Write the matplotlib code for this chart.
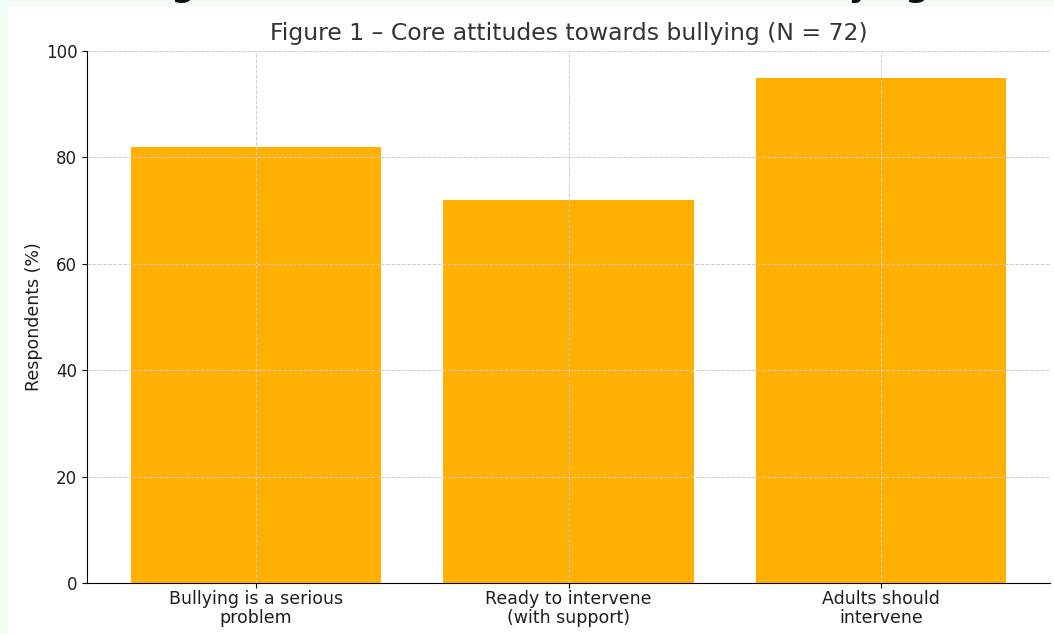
import matplotlib
matplotlib.use('Agg')
import matplotlib.pyplot as plt
from matplotlib.patches import Rectangle

categories = ['Bullying is a serious\nproblem', 'Ready to intervene\n(with support)', 'Adults should\nintervene']
values = [82, 72, 95]
yticks = [0, 20, 40, 60, 80, 100]
title = 'Figure 1 \u2013 Core attitudes towards bullying (N = 72)'

W, H = 1054, 634
fig = plt.figure(figsize=(W / 100, H / 100), dpi=100, facecolor='#f2fcf4')
# white page area of the screenshot
fig.add_artist(Rectangle((8 / W, 0), 1, (H - 6) / H, transform=fig.transFigure,
                         facecolor='white', edgecolor='none', zorder=-5))
# cut-off heading above the chart (only descenders visible)
fig.text(0.585, 1.0 + 4 / H, title, ha='center', va='baseline', fontsize=24,
         fontweight='bold', color='#111111', zorder=-4)

ax = fig.add_axes([87 / W, (H - 583) / H, (1050 - 87) / W, (583 - 51) / H])
ax.bar(range(len(values)), values, width=0.8, color='#FFB000', zorder=1)
ax.set_xticks(range(len(values)))
ax.set_xticklabels(categories, fontsize=12.5, color='#1e1e1e', linespacing=1.05)
ax.tick_params(axis='x', pad=1.5)
ax.set_yticks(yticks)
ax.tick_params(axis='y', labelsize=12, labelcolor='#1e1e1e')
ax.set_ylim(0, 100)
ax.set_xlim(-0.54, 2.54)
ax.set_ylabel('Respondents (%)', fontsize=12.5, color='#1e1e1e', labelpad=2)
ax.set_title(title, fontsize=16.9, color='#333333', pad=8)
ax.grid(True, linestyle='--', color='#cccccc', linewidth=0.7, zorder=2)
ax.set_axisbelow(False)
for s in ['top', 'right']:
    ax.spines[s].set_visible(False)
ax.set_facecolor('white')

fig.savefig('out.png', dpi=100, facecolor=fig.get_facecolor())
